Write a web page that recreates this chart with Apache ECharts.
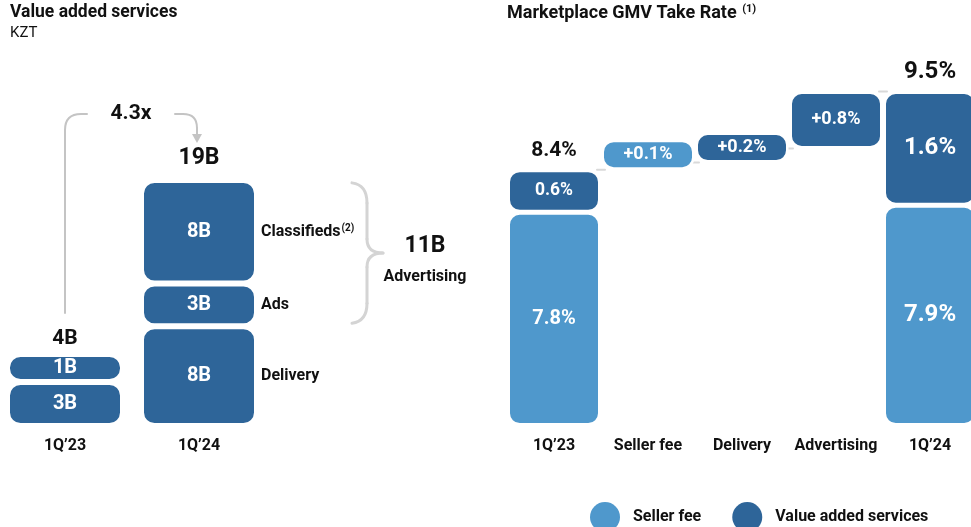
<!DOCTYPE html>
<html><head><meta charset="utf-8">
<script src="https://cdn.jsdelivr.net/npm/echarts@6/dist/echarts.min.js"></script>
<style>html,body{margin:0;padding:0;background:#fff}#c{width:971px;height:527px}</style>
</head><body><div id="c"></div>
<script>
// ---- Left chart: Value added services (KZT, billions) ----
const vasCategories = ['1Q’23', '1Q’24'];
const vasBottom = [3.4, 7.7];     // 1Q'23 lower block / Delivery
const vasMiddle = [1.0, 3.3];     // 1Q'23 upper block / Ads
const vasTop = [null, 8.0];       // Classifieds
const segmentNames = ['Delivery', 'Ads', 'Classifieds'];
const growthLabel = '4.3x';

// ---- Right chart: Marketplace GMV Take Rate (%) ----
const takeCategories = ['1Q’23', 'Seller fee', 'Delivery', 'Advertising', '1Q’24'];
const sellerFee = [7.8, null, null, null, 7.9];
const valueAdded = [0.6, null, null, null, 1.6];
const stepBase = [null, 8.4, 8.5, 8.7, null];
const stepSeller = [null, 0.1, null, null, null];
const stepVas = [null, null, 0.2, 0.8, null];
const takeTotals = [8.4, null, null, null, 9.5];

const DARK = '#2e6599', LIGHT = '#4f98cc', INK = '#111111', GREY = '#c4c4c4';
const FONT = 'Roboto';

const vasTotals = vasCategories.map((c, i) => (vasBottom[i] || 0) + (vasMiddle[i] || 0) + (vasTop[i] || 0));
const advertisingTotal = vasMiddle[1] + vasTop[1];

const fmtB = v => Math.round(v) + 'B';
const fmtPct = v => v.toFixed(1) + '%';
const dash = arr => arr.map(v => v == null ? '-' : v);

const leftBarBase = {
  type: 'bar', stack: 'vas', xAxisIndex: 0, yAxisIndex: 0, barWidth: 116,
  itemStyle: { color: DARK, borderColor: '#fff', borderWidth: 3, borderRadius: 12 },
  label: { show: true, position: 'inside', color: '#fff', fontWeight: 'bold', fontSize: 20, fontFamily: FONT,
    formatter: p => fmtB(p.value) }
};

const segLabelData = [];
let acc = 0;
[vasBottom[1], vasMiddle[1], vasTop[1]].forEach((v, k) => {
  segLabelData.push({ value: [1, acc + v / 2], name: segmentNames[k] });
  acc += v;
});

const rightBar = (name, data, color, extra) => Object.assign({
  type: 'bar', name, stack: 'take', xAxisIndex: 1, yAxisIndex: 1, barWidth: 93,
  data: dash(data),
  itemStyle: { color, borderColor: '#fff', borderWidth: 2.5, borderRadius: 11 },
  label: { show: true, position: 'inside', color: '#fff', fontWeight: 'bold', fontFamily: FONT, fontSize: 18,
    formatter: p => fmtPct(p.value) }
}, extra || {});

const bigLabel = (data, sizes) => data.map((v, i) => v == null ? '-' : { value: v, label: { fontSize: sizes[i] } });

const axisLab = { color: INK, fontWeight: 'bold', fontSize: 16, margin: 12, fontFamily: FONT, interval: 0 };

const option = {
  animation: false,
  textStyle: { fontFamily: FONT },
  title: [
    { text: 'Value added services', subtext: 'KZT', left: 10, top: 4, itemGap: 4, padding: 0,
      textStyle: { fontSize: 17.5, fontWeight: 'bold', color: INK, fontFamily: FONT },
      subtextStyle: { fontSize: 15, color: INK, fontFamily: FONT } },
    { text: 'Marketplace GMV Take Rate {sup|(1)}', left: 507, top: 4, padding: 0,
      textStyle: { fontSize: 18, fontWeight: 'bold', color: INK, fontFamily: FONT,
        rich: { sup: { fontSize: 11, fontWeight: 'bold', color: INK, verticalAlign: 'top', padding: [0, 0, 8, 1] } } } }
  ],
  legend: {
    data: ['Seller fee', 'Value added services'], left: 585, top: 497, icon: 'circle',
    itemWidth: 30, itemHeight: 30, itemGap: 31,
    itemStyle: { borderWidth: 0 },
    textStyle: { fontSize: 16, fontWeight: 'bold', color: INK, fontFamily: FONT, padding: [0, 0, 0, 8] }
  },
  grid: [
    { left: -2, width: 268, top: 119, height: 307, outerBoundsMode: 'none', containLabel: false },
    { left: 507, width: 470, top: 56, height: 369.5, outerBoundsMode: 'none', containLabel: false }
  ],
  xAxis: [
    { type: 'category', gridIndex: 0, data: vasCategories, axisLine: { show: false }, axisTick: { show: false }, axisLabel: axisLab },
    { type: 'category', gridIndex: 1, data: takeCategories, axisLine: { show: false }, axisTick: { show: false }, axisLabel: axisLab }
  ],
  yAxis: [
    { type: 'value', gridIndex: 0, min: 0, max: 23.7, show: false, splitLine: { show: false } },
    { type: 'value', gridIndex: 1, min: 4.8, max: 10, startValue: 4.8, show: false, splitLine: { show: false } }
  ],
  series: [
    Object.assign({}, leftBarBase, { name: 'Delivery', data: dash(vasBottom) }),
    Object.assign({}, leftBarBase, { name: 'Ads', data: dash(vasMiddle), barMinHeight: 28 }),
    Object.assign({}, leftBarBase, { name: 'Classifieds', data: dash(vasTop) }),
    { type: 'scatter', name: 'segment names', xAxisIndex: 0, yAxisIndex: 0, symbolSize: 0, silent: true,
      itemStyle: { opacity: 1, color: 'transparent' },
      data: segLabelData,
      label: { show: true, position: 'right', distance: 62, color: INK, fontWeight: 'bold', fontSize: 16, fontFamily: FONT,
        formatter: p => p.name === 'Classifieds' ? 'Classifieds{sup|(2)}' : p.name,
        rich: { sup: { fontSize: 10, fontWeight: 'bold', color: INK, verticalAlign: 'top', padding: [0, 0, 7, 1] } } } },
    { type: 'scatter', name: 'vas totals', xAxisIndex: 0, yAxisIndex: 0, symbolSize: 0, silent: true,
      itemStyle: { opacity: 1, color: 'transparent' },
      data: vasTotals.map((v, i) => ({ value: [i, v], label: { offset: i === 0 ? [0, -12] : [0, -2], fontSize: i === 0 ? 21 : 23 } })),
      label: { show: true, position: 'top', distance: 8, color: INK, fontWeight: 'bold', fontFamily: FONT,
        formatter: p => fmtB(p.value[1]) } },

    rightBar('Seller fee', sellerFee, LIGHT, { data: bigLabel(sellerFee, [20, 0, 0, 0, 24]) }),
    rightBar('Value added services', valueAdded, DARK, { data: bigLabel(valueAdded, [17.5, 0, 0, 0, 24]) }),
    rightBar('base', stepBase, 'transparent', { silent: true,
      itemStyle: { color: 'transparent', borderWidth: 0 }, label: { show: false } }),
    rightBar('Seller fee step', stepSeller, LIGHT, { barMinHeight: 30,
      label: { show: true, position: 'inside', color: '#fff', fontWeight: 'bold', fontFamily: FONT, fontSize: 18,
        formatter: p => '+' + fmtPct(p.value) } }),
    rightBar('VAS step', stepVas, DARK, { barMinHeight: 30,
      label: { show: true, position: 'inside', color: '#fff', fontWeight: 'bold', fontFamily: FONT, fontSize: 18,
        formatter: p => '+' + fmtPct(p.value) } }),
    { type: 'scatter', name: 'take totals', xAxisIndex: 1, yAxisIndex: 1, symbolSize: 0, silent: true,
      itemStyle: { opacity: 1, color: 'transparent' },
      data: takeTotals.map((v, i) => v == null ? null : { value: [i, v], label: { fontSize: i === 0 ? 21 : 24 } }).filter(Boolean),
      label: { show: true, position: 'top', distance: 8, color: INK, fontWeight: 'bold', fontFamily: FONT,
        formatter: p => fmtPct(p.value[1]) } }
  ]
};

const chart = echarts.init(document.getElementById('c'), null, { renderer: 'canvas' });
chart.setOption(option);

// ---- annotations anchored to the axes ----
const px = (v) => chart.convertToPixel({ gridIndex: 0 }, v);
const px2 = (v) => chart.convertToPixel({ gridIndex: 1 }, v);
const a = px([0, 0]), b = px([1, 0]);
const x0 = a[0], x1 = b[0] - 2;
const arrowY = 114;
const yTop = px([1, vasTotals[1]])[1] + 3;
const yBot = px([1, vasBottom[1]])[1] - 3;
const mid = (yTop + yBot) / 2;
const bx = b[0] + 153;

const ln = (x1_, y1_, x2_, y2_, color, w, z) => ({ type: 'line', silent: true, z: z == null ? 10 : z,
  shape: { x1: x1_, y1: y1_, x2: x2_, y2: y2_ }, style: { stroke: color, lineWidth: w, lineCap: 'round' } });
const qc = (x1_, y1_, cx, cy, x2_, y2_, color, w) => ({ type: 'bezierCurve', silent: true,
  shape: { x1: x1_, y1: y1_, cpx1: cx, cpy1: cy, x2: x2_, y2: y2_ }, style: { stroke: color, lineWidth: w, fill: null, lineCap: 'round' } });
const txt = (x, y, text, font) => ({ type: 'text', silent: true, x, y,
  style: { text, font, fill: INK, align: 'center', verticalAlign: 'middle', textAlign: 'center', textVerticalAlign: 'middle' } });

// waterfall connectors at each running-total level (drawn in the gaps between boxes)
const levels = [takeTotals[0], stepBase[2], stepBase[3], takeTotals[4]];
const connectors = levels.map((lv, i) => {
  const y = px2([i, lv])[1];
  const xr = px2([i, lv])[0] + 44;
  const xl = px2([i + 1, lv])[0] - 44;
  return ln(xr - 1, y, xl + 1, y, '#d9d9d9', 2, 0);
});

const BR = '#d4d4d4';
chart.setOption({
  graphic: connectors.concat([
    ln(x0, 313, x0, arrowY + 16, GREY, 2),
    qc(x0, arrowY + 16, x0, arrowY, x0 + 16, arrowY, GREY, 2),
    ln(x0 + 16, arrowY, x0 + 22, arrowY, GREY, 2),
    ln(x1 - 22, arrowY, x1 - 14, arrowY, GREY, 2),
    qc(x1 - 14, arrowY, x1, arrowY, x1, arrowY + 14, GREY, 2),
    ln(x1, arrowY + 14, x1, arrowY + 21, GREY, 2),
    { type: 'polygon', silent: true,
      shape: { points: [[x1 - 5, arrowY + 20], [x1 + 5, arrowY + 20], [x1, arrowY + 29]] },
      style: { fill: GREY } },
    txt((x0 + x1) / 2, arrowY, growthLabel, 'bold 21px Roboto'),
    qc(bx, yTop, bx + 15, yTop + 2, bx + 15, yTop + 20, BR, 3),
    ln(bx + 15, yTop + 20, bx + 15, mid - 14, BR, 3),
    qc(bx + 15, mid - 14, bx + 15, mid, bx + 31, mid, BR, 3),
    qc(bx + 31, mid, bx + 15, mid, bx + 15, mid + 14, BR, 3),
    ln(bx + 15, mid + 14, bx + 15, yBot - 20, BR, 3),
    qc(bx + 15, yBot - 20, bx + 15, yBot - 2, bx, yBot, BR, 3),
    txt(425, mid - 7, fmtB(advertisingTotal), 'bold 23px Roboto'),
    txt(425, mid + 24, 'Advertising', 'bold 16px Roboto')
  ])
});
</script></body></html>
